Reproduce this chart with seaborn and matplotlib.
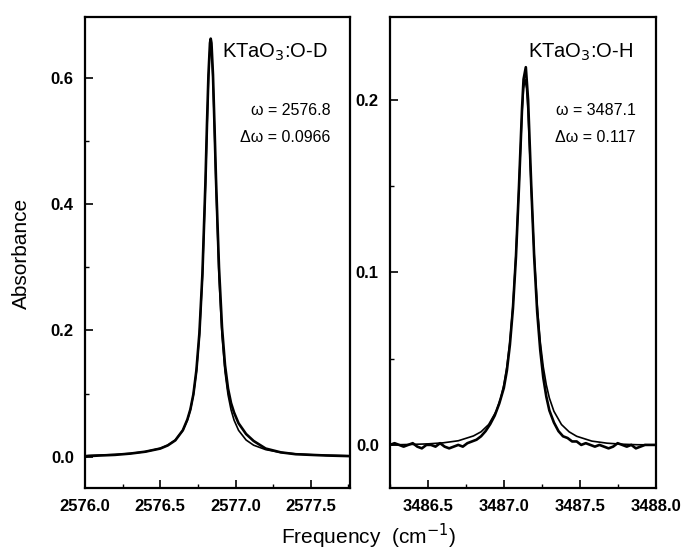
import matplotlib
matplotlib.use("Agg")
import matplotlib.pyplot as plt
from matplotlib.ticker import MultipleLocator
import seaborn as sns
import pandas as pd

# ---- O-D band (left panel) ----
od_data_x = [2576.0, 2576.02, 2576.1, 2576.2, 2576.3, 2576.4, 2576.5, 2576.55, 2576.6,
             2576.65, 2576.68, 2576.70, 2576.72, 2576.74, 2576.76, 2576.78, 2576.80,
             2576.81, 2576.82, 2576.83, 2576.835, 2576.84, 2576.85, 2576.86, 2576.87,
             2576.89, 2576.91, 2576.93, 2576.95, 2576.97, 2576.99, 2577.02, 2577.07,
             2577.12, 2577.20, 2577.30, 2577.40, 2577.50, 2577.60, 2577.76]
od_data_y = [0.000, 0.001, 0.002, 0.003, 0.005, 0.008, 0.013, 0.018, 0.026,
             0.042, 0.059, 0.075, 0.099, 0.137, 0.196, 0.290, 0.435,
             0.525, 0.605, 0.655, 0.662, 0.655, 0.605, 0.525, 0.440,
             0.300, 0.205, 0.145, 0.108, 0.085, 0.070, 0.053, 0.036,
             0.025, 0.013, 0.007, 0.004, 0.003, 0.002, 0.001]

od_fit_x = [2576.0, 2576.1, 2576.2, 2576.3, 2576.4, 2576.5, 2576.55, 2576.6, 2576.65,
            2576.68, 2576.70, 2576.72, 2576.74, 2576.76, 2576.78, 2576.80, 2576.81,
            2576.82, 2576.83, 2576.835, 2576.84, 2576.85, 2576.86, 2576.87, 2576.89,
            2576.91, 2576.93, 2576.95, 2576.97, 2576.99, 2577.02, 2577.07, 2577.12,
            2577.20, 2577.30, 2577.40, 2577.50, 2577.60, 2577.76]
od_fit_y = [0.0018, 0.0026, 0.0036, 0.0052, 0.0080, 0.0133, 0.0183, 0.0265, 0.0418,
            0.0580, 0.0743, 0.0982, 0.1345, 0.192, 0.285, 0.4295, 0.5166,
            0.597, 0.648, 0.655, 0.648, 0.597, 0.5166, 0.4295, 0.285,
            0.192, 0.1345, 0.0982, 0.0743, 0.0580, 0.0418, 0.0265, 0.0183,
            0.0113, 0.0068, 0.0045, 0.0032, 0.0024, 0.0015]

# ---- O-H band (right panel) ----
oh_data_x = [3486.25, 3486.28, 3486.31, 3486.34, 3486.37, 3486.40, 3486.43, 3486.46,
             3486.49, 3486.52, 3486.55, 3486.58, 3486.61, 3486.64, 3486.67, 3486.70,
             3486.73, 3486.76, 3486.79, 3486.82, 3486.85, 3486.88, 3486.91, 3486.94,
             3486.97, 3487.00, 3487.02, 3487.04, 3487.06, 3487.08, 3487.10, 3487.12,
             3487.13, 3487.145, 3487.16, 3487.18, 3487.20, 3487.22, 3487.24, 3487.26,
             3487.28, 3487.30, 3487.33, 3487.36, 3487.39, 3487.42, 3487.45, 3487.48,
             3487.51, 3487.54, 3487.57, 3487.60, 3487.63, 3487.66, 3487.69, 3487.72,
             3487.75, 3487.78, 3487.81, 3487.84, 3487.87, 3487.90, 3487.93, 3487.96,
             3488.00]
oh_data_y = [0.000, 0.001, 0.000, -0.001, 0.000, 0.001, -0.001, -0.002,
             0.000, 0.000, -0.001, 0.001, -0.001, -0.002, -0.001, 0.000,
             -0.001, 0.001, 0.002, 0.003, 0.005, 0.008, 0.012, 0.017,
             0.024, 0.033, 0.043, 0.058, 0.079, 0.109, 0.150, 0.195,
             0.212, 0.219, 0.200, 0.152, 0.109, 0.077, 0.055, 0.039,
             0.028, 0.020, 0.013, 0.008, 0.005, 0.004, 0.002, 0.002,
             0.000, 0.001, 0.000, -0.001, 0.000, -0.001, -0.002, -0.001,
             0.001, 0.000, -0.001, 0.000, -0.002, -0.001, 0.000, 0.000,
             0.000]

oh_fit_x = [3486.25, 3486.40, 3486.50, 3486.60, 3486.70, 3486.80, 3486.85, 3486.90,
            3486.95, 3486.98, 3487.00, 3487.02, 3487.04, 3487.06, 3487.08, 3487.10,
            3487.12, 3487.13, 3487.14, 3487.15, 3487.16, 3487.18, 3487.20, 3487.22,
            3487.24, 3487.26, 3487.28, 3487.30, 3487.33, 3487.38, 3487.43, 3487.48,
            3487.58, 3487.68, 3487.78, 3487.88, 3488.00]
oh_fit_y = [0.0000, 0.0003, 0.0006, 0.0012, 0.0024, 0.0052, 0.0076, 0.0118,
            0.0195, 0.0272, 0.0348, 0.0452, 0.0598, 0.0808, 0.1107, 0.1502,
            0.1924, 0.2066, 0.212, 0.2066, 0.1924, 0.1502, 0.1107, 0.0809,
            0.0598, 0.0452, 0.0348, 0.0272, 0.0195, 0.0118, 0.0076, 0.0050,
            0.0022, 0.0010, 0.0004, 0.0001, 0.0000]

panel_titles = ["KTaO$_3$:O-D", "KTaO$_3$:O-H"]
panel_omega = ["\u03c9 = 2576.8", "\u03c9 = 3487.1"]
panel_width = ["\u0394\u03c9 = 0.0966", "\u0394\u03c9 = 0.117"]

sns.set_style("ticks")
plt.rcParams['font.family'] = ['Liberation Sans', 'DejaVu Sans']
plt.rcParams['text.color'] = 'black'
plt.rcParams['axes.edgecolor'] = 'black'
plt.rcParams['xtick.color'] = 'black'
plt.rcParams['ytick.color'] = 'black'

fig = plt.figure(figsize=(6.82, 5.52), dpi=100)
ax1 = fig.add_axes([0.1246, 0.1159, 0.3886, 0.853])
ax2 = fig.add_axes([0.5718, 0.1159, 0.3895, 0.853])

od_data = pd.DataFrame({'x': od_data_x, 'y': od_data_y})
od_fit = pd.DataFrame({'x': od_fit_x, 'y': od_fit_y})
oh_data = pd.DataFrame({'x': oh_data_x, 'y': oh_data_y})
oh_fit = pd.DataFrame({'x': oh_fit_x, 'y': oh_fit_y})

sns.lineplot(data=od_fit, x='x', y='y', ax=ax1, color='black', linewidth=1.2, estimator=None)
sns.lineplot(data=od_data, x='x', y='y', ax=ax1, color='black', linewidth=1.9, estimator=None)
sns.lineplot(data=oh_fit, x='x', y='y', ax=ax2, color='black', linewidth=1.2, estimator=None)
sns.lineplot(data=oh_data, x='x', y='y', ax=ax2, color='black', linewidth=1.9, estimator=None)

ax1.set_xlim(2576.0, 2577.76)
ax1.set_ylim(-0.0495, 0.696)
ax1.xaxis.set_major_locator(MultipleLocator(0.5))
ax1.xaxis.set_minor_locator(MultipleLocator(0.25))
ax1.yaxis.set_major_locator(MultipleLocator(0.2))
ax1.yaxis.set_minor_locator(MultipleLocator(0.1))

ax2.set_xlim(3486.25, 3488.0)
ax2.set_ylim(-0.025, 0.248)
ax2.xaxis.set_major_locator(MultipleLocator(0.5))
ax2.xaxis.set_minor_locator(MultipleLocator(0.25))
ax2.yaxis.set_major_locator(MultipleLocator(0.1))
ax2.yaxis.set_minor_locator(MultipleLocator(0.05))

for i, ax in enumerate([ax1, ax2]):
    ax.set_xlabel('')
    ax.set_ylabel('')
    ax.xaxis.set_major_formatter(plt.FormatStrFormatter('%.1f'))
    ax.yaxis.set_major_formatter(plt.FormatStrFormatter('%.1f'))
    ax.tick_params(which='major', direction='in', length=6, width=1.2,
                   labelsize=12, pad=8)
    ax.tick_params(which='minor', direction='in', length=3, width=1.0)
    for lbl in ax.get_xticklabels() + ax.get_yticklabels():
        lbl.set_fontweight('bold')
    for s in ax.spines.values():
        s.set_linewidth(1.6)
        s.set_color('black')
        s.set_visible(True)
    ax.text(0.915, 0.926, panel_titles[i], transform=ax.transAxes,
            ha='right', va='center', fontsize=14.5)
    ax.text(0.925, 0.8025, panel_omega[i], transform=ax.transAxes,
            ha='right', va='center', fontsize=11.5)
    ax.text(0.925, 0.745, panel_width[i], transform=ax.transAxes,
            ha='right', va='center', fontsize=11.5)

fig.text(0.032, 0.54, 'Absorbance', rotation=90, ha='center', va='center', fontsize=15)
fig.text(0.54, 0.028, 'Frequency  (cm$^{-1}$)', ha='center', va='center', fontsize=15)

fig.savefig('out.png', dpi=100)
